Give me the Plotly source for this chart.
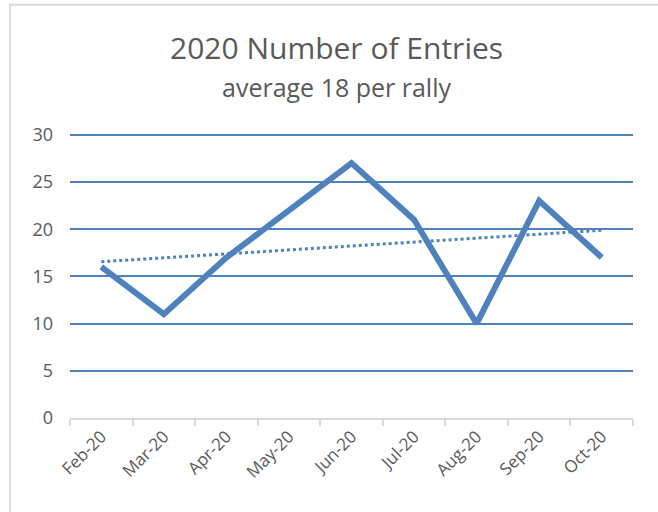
import numpy as np
import plotly.graph_objects as go

months = ["Feb-20", "Mar-20", "Apr-20", "May-20", "Jun-20", "Jul-20", "Aug-20", "Sep-20", "Oct-20"]
entries = [16, 11, 17, 22, 27, 21, 10, 23, 17]
y_ticks = [0, 5, 10, 15, 20, 25, 30]
title_text = "2020 Number of Entries"
subtitle_text = "average 18 per rally"

# Linear trendline (as Excel would compute it)
xi = np.arange(len(entries))
slope, intercept = np.polyfit(xi, entries, 1)
trend = (slope * xi + intercept).tolist()

BLUE = "#4F81BD"
GREY_TXT = "#595959"
GREY_LINE = "#D9D9D9"
FONT = "Open Sans, Lato, sans-serif"

fig = go.Figure()
fig.add_trace(go.Scatter(x=months, y=entries, mode="lines",
                         line=dict(color=BLUE, width=6), hoverinfo="x+y", showlegend=False))
fig.add_trace(go.Scatter(x=months, y=trend, mode="lines",
                         line=dict(color=BLUE, width=3, dash="dot"), showlegend=False))

fig.update_layout(
    width=658, height=512,
    margin=dict(l=70, r=25, t=131.5, b=94),
    paper_bgcolor="white", plot_bgcolor="white",
    font=dict(family=FONT, color=GREY_TXT),
    xaxis=dict(type="category", showgrid=False, zeroline=False, automargin=False,
               showline=True, linecolor=GREY_LINE, linewidth=2,
               ticks="outside", tickson="boundaries", ticklen=6, tickcolor=GREY_LINE, tickwidth=1.5,
               tickangle=-45, tickfont=dict(size=17, color=GREY_TXT, family=FONT),
               range=[-0.5, len(months) - 0.5]),
    yaxis=dict(range=[0, 30.3], tickvals=y_ticks, showgrid=True, gridcolor=BLUE, gridwidth=1.5,
               zeroline=False, showline=False, ticks="", ticklabelstandoff=16, automargin=False,
               tickfont=dict(size=18, color=GREY_TXT, family=FONT)),
    annotations=[
        dict(text=title_text, xref="paper", yref="paper", x=0.474, y=1.2946,
             xanchor="center", yanchor="middle", showarrow=False,
             font=dict(size=30, color=GREY_TXT, family=FONT)),
        dict(text=subtitle_text, xref="paper", yref="paper", x=0.474, y=1.1587,
             xanchor="center", yanchor="middle", showarrow=False,
             font=dict(size=25, color=GREY_TXT, family=FONT)),
    ],
    shapes=[dict(type="rect", xref="paper", yref="paper",
                 x0=-0.1066, x1=1.5, y0=-0.6, y1=1.4446,
                 line=dict(color=GREY_LINE, width=2), layer="below")],
)

fig.write_html("out.html", config={"displayModeBar": False},
               post_script="document.body.style.margin='0';document.body.style.overflow='hidden';")
